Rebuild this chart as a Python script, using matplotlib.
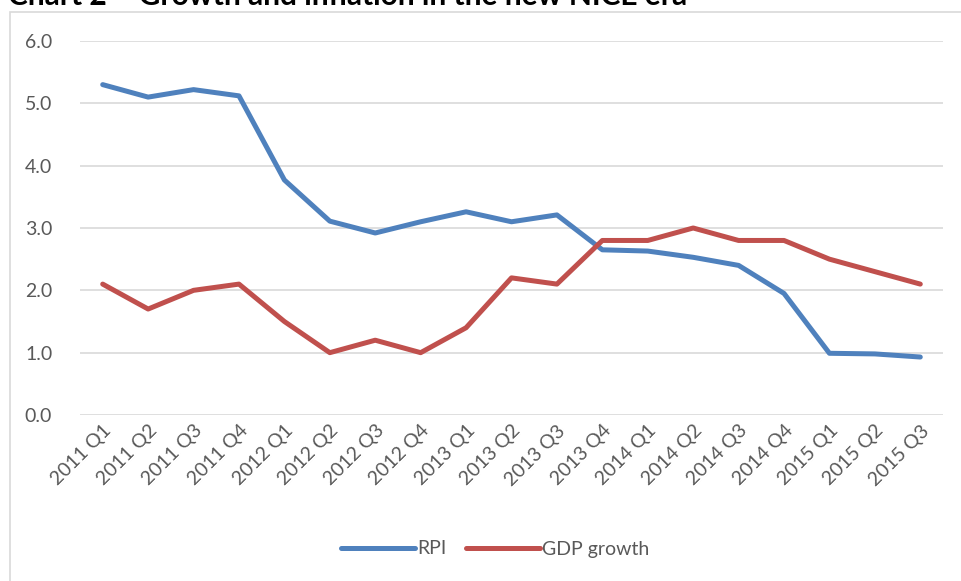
import matplotlib
matplotlib.use("Agg")
import matplotlib.pyplot as plt
from matplotlib.patches import Rectangle

plt.rcParams['font.family'] = ['Lato', 'DejaVu Sans']

quarters = ["2011 Q1", "2011 Q2", "2011 Q3", "2011 Q4",
            "2012 Q1", "2012 Q2", "2012 Q3", "2012 Q4",
            "2013 Q1", "2013 Q2", "2013 Q3", "2013 Q4",
            "2014 Q1", "2014 Q2", "2014 Q3", "2014 Q4",
            "2015 Q1", "2015 Q2", "2015 Q3"]
rpi = [5.3, 5.1, 5.22, 5.12, 3.77, 3.11, 2.92, 3.1, 3.26, 3.1, 3.21,
       2.65, 2.63, 2.53, 2.4, 1.95, 0.99, 0.98, 0.93]
gdp = [2.1, 1.7, 2.0, 2.1, 1.5, 1.0, 1.2, 1.0, 1.4, 2.2, 2.1,
       2.8, 2.8, 3.0, 2.8, 2.8, 2.5, 2.3, 2.1]
yticks = [0.0, 1.0, 2.0, 3.0, 4.0, 5.0, 6.0]

W, H = 961, 581
fig = plt.figure(figsize=(W / 100, H / 100), dpi=100)

# chart border
fig.patches.append(Rectangle((10 / W, -0.1), 1.2, 1 - 12 / H + 0.1,
                             transform=fig.transFigure, fill=False,
                             edgecolor="#d9d9d9", linewidth=1.2))

# title, clipped at the very top as in the source
fig.text(8 / W, 1 - 5 / H, "Chart 2 \u2013 Growth and inflation in the new NICE era",
         fontsize=21.5, fontweight="bold", va="baseline", ha="left", color="black")

ax = fig.add_axes([80 / W, 1 - 415 / H, (943 - 80) / W, (415 - 41) / H])
x = list(range(len(quarters)))
ax.plot(x, rpi, color="#4F81BD", linewidth=3.6, label="RPI", solid_capstyle="round")
ax.plot(x, gdp, color="#C0504D", linewidth=3.6, label="GDP growth", solid_capstyle="round")

ax.set_xlim(-0.5, len(quarters) - 0.5)
ax.set_ylim(0, 6)
ax.set_yticks(yticks)
ax.set_yticklabels([f"{v:.1f}" for v in yticks])
ax.set_xticks(x)
ax.set_xticklabels(quarters, rotation=45, ha="right", rotation_mode="anchor")
ax.grid(axis="y", color="#d9d9d9", linewidth=1.2)
ax.set_axisbelow(True)
for s in ax.spines.values():
    s.set_visible(False)
ax.tick_params(axis="both", length=0, colors="#595959", labelsize=14)
ax.tick_params(axis="y", pad=20)
ax.tick_params(axis="x", pad=5)

leg = fig.legend(loc="center", bbox_to_anchor=(495 / W, 1 - 549 / H), ncol=2,
                 frameon=False, fontsize=14, handlelength=3.8, handletextpad=0.1,
                 columnspacing=1.0)
for t in leg.get_texts():
    t.set_color("#595959")

fig.savefig("out.png", dpi=100)
